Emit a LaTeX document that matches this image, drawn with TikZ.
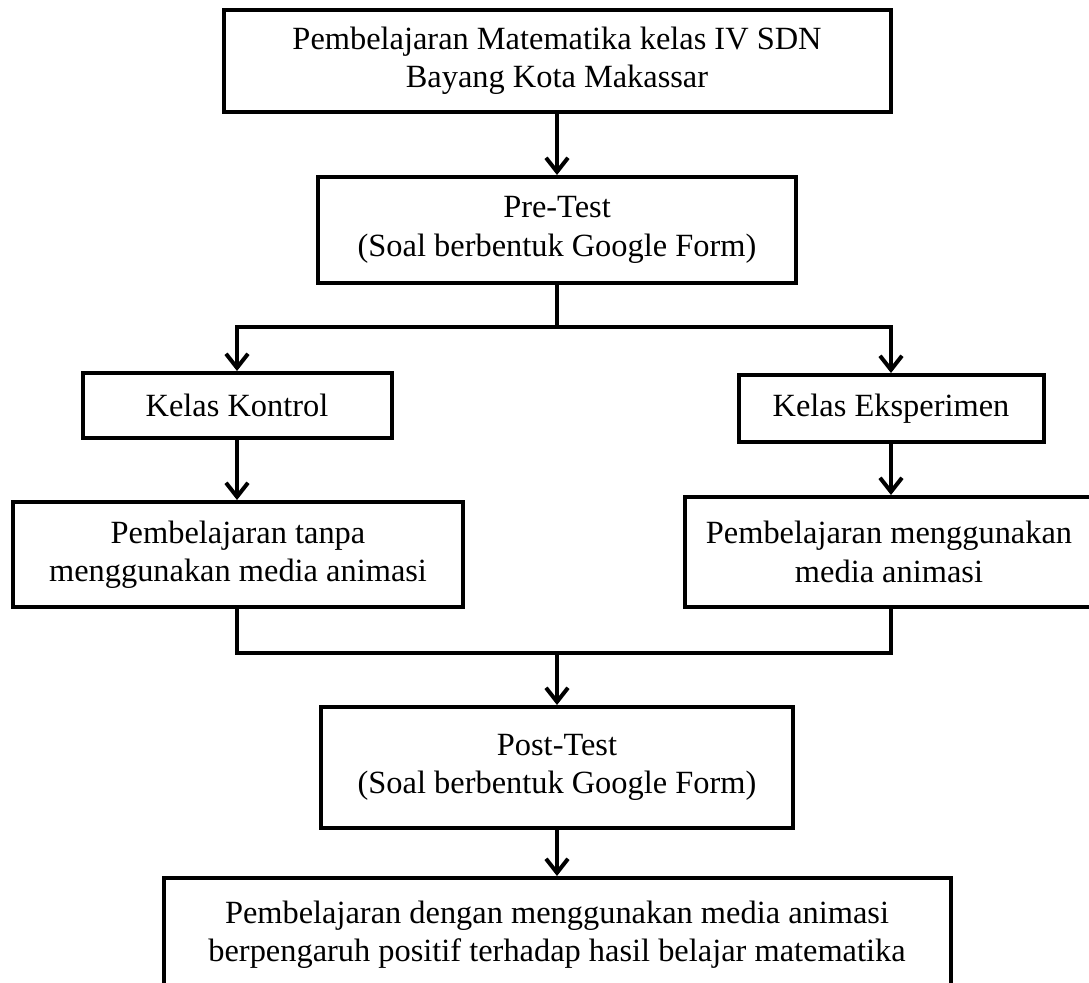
\documentclass[tikz,border=0pt]{standalone}
\usepackage{fontspec}
\setmainfont{Liberation Serif}
\usepackage{tikz}
\usetikzlibrary{arrows.meta, positioning}

\begin{document}
\begin{tikzpicture}[
    x=0.5pt, y=-0.5pt,
    >={Straight Barb[length=7pt,width=11pt]},
    box/.style={draw, rectangle, align=center, inner sep=2pt,
        font=\fontsize{16.2}{19.2}\selectfont},
    line width=2pt, draw=black
]
\useasboundingbox (0,0) rectangle (1089,982);

% Nodes
\node[box, minimum width=333.5pt, minimum height=51pt] (top) at (557,61)
    {Pembelajaran Matematika kelas IV SDN\\Bayang Kota Makassar};
\node[box, minimum width=239pt, minimum height=53pt] (pre) at (557,230)
    {Pre-Test\\(Soal berbentuk Google Form)};
\node[box, minimum width=154.5pt, minimum height=32.5pt] (kontrol) at (237,405.5)
    {Kelas Kontrol};
\node[box, minimum width=152.5pt, minimum height=33.5pt] (eksp) at (891,408.5)
    {Kelas Eksperimen};
\node[box, minimum width=225pt, minimum height=52.5pt] (tanpa) at (238,554.5)
    {Pembelajaran tanpa\\menggunakan media animasi};
\node[box, minimum width=204pt, minimum height=55pt] (pakai) at (889,552)
    {Pembelajaran menggunakan\\media animasi};
\node[box, minimum width=236pt, minimum height=60.5pt] (post) at (557,767.5)
    {Post-Test\\(Soal berbentuk Google Form)};
\node[box, minimum width=393.5pt, minimum height=57pt] (hasil) at (557,935)
    {Pembelajaran dengan menggunakan media animasi\\berpengaruh positif terhadap hasil belajar matematika};

\coordinate (split) at (557,327);
\coordinate (join) at (557,653);

% Edges
\draw[->] (top.south) -- (top.south |- pre.north);
\draw (pre) -- (split);
\draw[->] (split) -| (kontrol);
\draw[->] (split) -| (eksp);

\draw[->] (kontrol.south) -- (kontrol.south |- tanpa.north);
\draw[->] (eksp.south) -- (eksp.south |- pakai.north);

\draw (kontrol.south |- tanpa.south) |- (join) -| (eksp.south |- pakai.south);
\draw[->] (join) -- (post);
\draw[->] (post) -- (hasil);

\end{tikzpicture}
\end{document}
